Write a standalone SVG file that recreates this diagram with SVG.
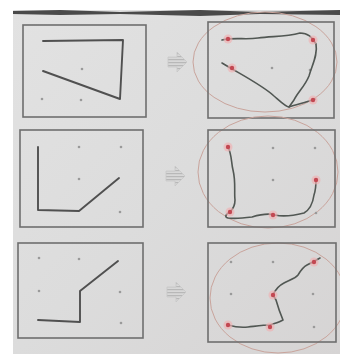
<svg xmlns="http://www.w3.org/2000/svg" width="340" height="354" viewBox="0 0 340 354">
<defs>
<style>
.frame{fill:none;stroke:#6e6e6e;stroke-width:1.6}
.draw{fill:none;stroke:#505050;stroke-width:1.9;stroke-linecap:round;stroke-linejoin:round}
.trace{fill:none;stroke:#515753;stroke-width:1.6;stroke-linecap:round;stroke-linejoin:round}
.dot{fill:#9a9a9a}
.ell{fill:none;stroke:#c9a49c;stroke-width:1}
.halo{fill:#f0b0b2;opacity:0.65}
.pt{fill:#c24852}
.arrow{fill:url(#hatch);stroke:#c8c8c8;stroke-width:0.8}
</style>
<pattern id="hatch" width="4" height="3" patternUnits="userSpaceOnUse">
<rect width="4" height="3" fill="#d8d8d8"/>
<rect width="4" height="1.2" fill="#b8b8b8"/>
</pattern>
<linearGradient id="paper" x1="0" y1="0" x2="1" y2="1">
<stop offset="0" stop-color="#e2e2e2"/>
<stop offset="0.5" stop-color="#dcdcdc"/>
<stop offset="1" stop-color="#d6d4d4"/>
</linearGradient>
<g id="arw"><path class="arrow" d="M-9,-5 L0,-5 L0,-10 L10,0 L0,10 L0,5 L-9,5 Z"/></g>
<g id="rp"><circle class="halo" r="4.5"/><circle class="pt" r="2.2"/></g>
</defs>
<rect width="340" height="354" fill="#ffffff"/>
<rect x="13" y="10" width="327" height="344" fill="url(#paper)"/>
<path d="M13,11 L60,10 L120,12 L200,10 L260,12 L340,10 L340,15 L260,14 L200,16 L120,14 L60,15 L13,14 Z" fill="#4a4a4a"/>

<g id="panel1-left">
<rect class="frame" x="23" y="25" width="123" height="92"/>
<circle class="dot" cx="82" cy="69" r="1.3"/>
<circle class="dot" cx="42" cy="99" r="1.3"/>
<circle class="dot" cx="81" cy="100" r="1.3"/>
<path class="draw" d="M43,41 L123,40 L120,99 L43,71"/>
</g>
<g id="panel2-left">
<rect class="frame" x="20" y="130" width="123" height="97"/>
<circle class="dot" cx="79" cy="147" r="1.3"/>
<circle class="dot" cx="121" cy="147" r="1.3"/>
<circle class="dot" cx="79" cy="179" r="1.3"/>
<circle class="dot" cx="120" cy="212" r="1.3"/>
<path class="draw" d="M38,147 L38,210 L79,211 L119,178"/>
</g>
<g id="panel3-left">
<rect class="frame" x="18" y="243" width="125" height="95"/>
<circle class="dot" cx="39" cy="258" r="1.3"/>
<circle class="dot" cx="79" cy="259" r="1.3"/>
<circle class="dot" cx="39" cy="291" r="1.3"/>
<circle class="dot" cx="120" cy="292" r="1.3"/>
<circle class="dot" cx="121" cy="323" r="1.3"/>
<path class="draw" d="M118,261 L80,291 L80,322 L38,320"/>
</g>

<g id="connectors">
<use href="#arw" x="177" y="62"/>
<use href="#arw" x="175" y="176"/>
<use href="#arw" x="176" y="292"/>
</g>

<g id="panel1-right">
<ellipse class="ell" cx="265" cy="62" rx="72" ry="50"/>
<rect class="frame" x="208" y="22" width="126" height="96"/>
<circle class="dot" cx="272" cy="68" r="1.3"/>
<circle class="dot" cx="310" cy="70" r="1.3"/>
<path class="trace" d="M222,40 C235,37 245,40 258,38 C272,36 285,37 300,33 C308,33 312,37 316,44 C318,55 312,65 309,76 C305,86 298,92 294,100 L289,107"/>
<path class="trace" d="M222,63 C240,74 262,85 274,96 C282,103 286,107 289,107 C297,104 305,103 315,99"/>
<use href="#rp" x="228" y="39"/>
<use href="#rp" x="313" y="40"/>
<use href="#rp" x="232" y="68"/>
<use href="#rp" x="313" y="100"/>
</g>

<g id="panel2-right">
<ellipse class="ell" cx="268" cy="172" rx="70" ry="56"/>
<rect class="frame" x="208" y="130" width="127" height="97"/>
<circle class="dot" cx="273" cy="148" r="1.3"/>
<circle class="dot" cx="315" cy="148" r="1.3"/>
<circle class="dot" cx="273" cy="180" r="1.3"/>
<circle class="dot" cx="316" cy="213" r="1.3"/>
<path class="trace" d="M228,147 C232,155 231,162 233,170 C236,182 234,192 235,200 C235,206 233,209 230,212 C226,214 224,217 228,218 C236,219 244,218 252,217 C262,214 268,213 275,215 C284,217 296,215 304,213 C311,209 313,202 314,195 C316,189 316,184 316,180"/>
<use href="#rp" x="228" y="147"/>
<use href="#rp" x="230" y="212"/>
<use href="#rp" x="273" y="215"/>
<use href="#rp" x="316" y="180"/>
</g>

<g id="panel3-right">
<ellipse class="ell" cx="278" cy="298" rx="68" ry="55"/>
<rect class="frame" x="208" y="243" width="128" height="99"/>
<circle class="dot" cx="231" cy="262" r="1.3"/>
<circle class="dot" cx="273" cy="262" r="1.3"/>
<circle class="dot" cx="231" cy="294" r="1.3"/>
<circle class="dot" cx="313" cy="294" r="1.3"/>
<circle class="dot" cx="314" cy="327" r="1.3"/>
<path class="trace" d="M228,325 C235,327 240,328 248,327 C257,326 264,325 270,325 C276,323 280,322 283,320 C280,313 278,307 276,300 L273,295 C276,288 280,285 284,283 C290,280 296,278 298,275 C301,270 303,267 307,265 C311,263 315,261 320,258"/>
<use href="#rp" x="228" y="325"/>
<use href="#rp" x="270" y="327"/>
<use href="#rp" x="273" y="295"/>
<use href="#rp" x="314" y="262"/>
</g>
</svg>
